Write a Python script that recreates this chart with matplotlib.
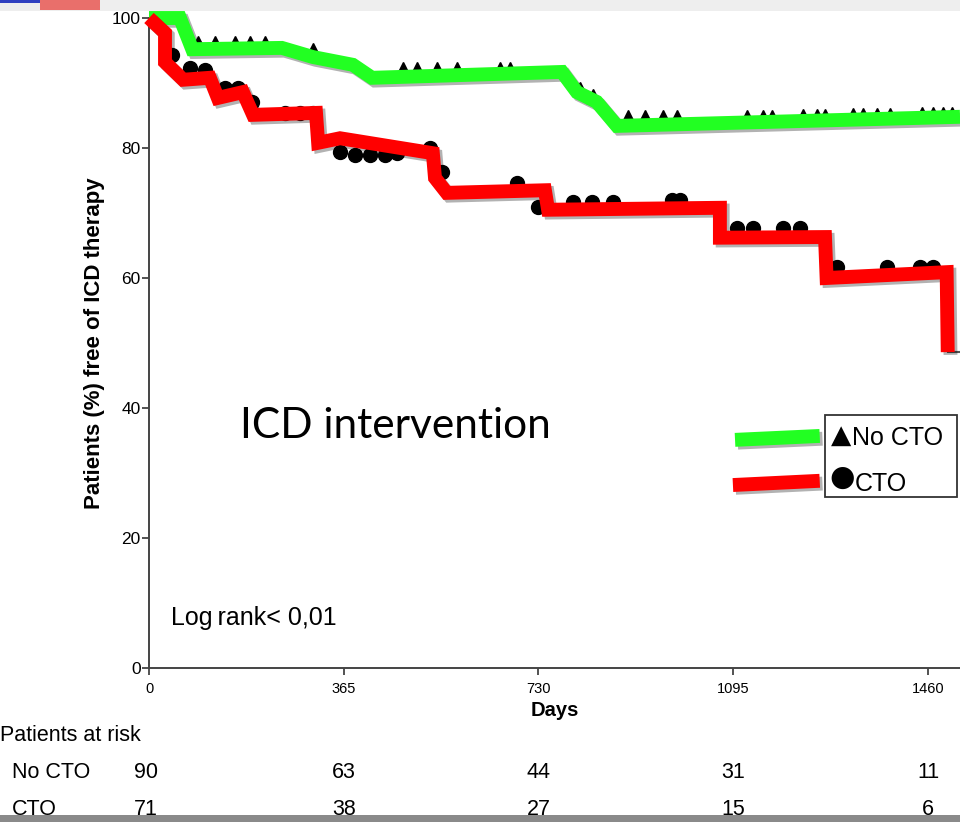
import matplotlib
matplotlib.use('Agg')
from matplotlib import pyplot as plt
from matplotlib import patheffects as pe
from matplotlib.patches import Rectangle

plt.rcParams['font.family'] = ['Liberation Sans', 'DejaVu Sans']

# hand-traced overlay curves (days, % free of ICD therapy)
no_cto_days = [0, 58, 81, 249, 307, 382, 418, 774, 802, 839, 877, 1520]
no_cto_pct = [100, 100, 95.2, 95.4, 94.0, 92.8, 90.8, 91.7, 88.6, 87.1, 83.4, 84.8]

cto_days = [0, 30, 30, 64, 114, 129, 176, 195, 313, 317, 358, 532, 536, 558,
            742, 748, 1070, 1070, 1267, 1270, 1495, 1497]
cto_pct = [100, 97.7, 93.2, 90.5, 90.8, 87.7, 88.6, 85.1, 85.4, 80.8, 81.5,
           79.2, 75.4, 73.1, 73.5, 70.5, 70.8, 66.2, 66.3, 60.0, 60.9, 48.6]

# censored observations
no_cto_cens_days = [92, 124, 161, 189, 217, 307, 476, 502, 540, 577, 658, 676,
                    808, 832, 897, 929, 963, 989, 1120, 1150, 1167, 1225, 1252,
                    1267, 1319, 1338, 1364, 1388, 1448, 1469, 1488, 1505]
no_cto_cens_pct = [96.2, 96.2, 96.2, 96.2, 96.2, 95.0, 92.2, 92.2, 92.2, 92.2,
                   92.2, 92.2, 89.0, 88.0, 84.8, 84.8, 84.8, 84.8, 84.8, 84.8,
                   84.8, 84.9, 84.9, 84.9, 85.0, 85.0, 85.0, 85.0, 85.2, 85.2,
                   85.2, 85.2]

cto_cens_days = [43, 77, 105, 142, 167, 193, 255, 283, 307, 358, 386, 414, 442,
                 465, 527, 549, 690, 729, 794, 830, 869, 980, 995, 1102, 1132,
                 1188, 1220, 1289, 1383, 1445, 1469]
cto_cens_pct = [94.3, 92.3, 92.0, 89.2, 89.2, 87.1, 85.4, 85.4, 85.4, 79.4,
                78.9, 78.9, 78.9, 79.2, 80.0, 76.3, 74.6, 70.9, 71.7, 71.7,
                71.7, 72.0, 72.0, 67.7, 67.7, 67.7, 67.7, 61.7, 61.7, 61.7, 61.7]

xticks = [0, 365, 730, 1095, 1460]
yticks = [0, 20, 40, 60, 80, 100]
risk_groups = ['No CTO', 'CTO']
risk_no_cto = [90, 63, 44, 31, 11]
risk_cto = [71, 38, 27, 15, 6]

W, H = 960, 822


def px(x, y):
    return x / W, 1 - y / H


fig = plt.figure(figsize=(W / 100, H / 100), dpi=100)
ax = fig.add_axes([149 / W, 154 / H, 1 - 149 / W, 650 / H])
ax.set_xlim(0, 1520)
ax.set_ylim(0, 100)

for s in ['top', 'right']:
    ax.spines[s].set_visible(False)
for s in ['left', 'bottom']:
    ax.spines[s].set_color('#444444')
    ax.spines[s].set_linewidth(1.4)
ax.set_xticks(xticks)
ax.set_yticks(yticks)
ax.tick_params(axis='both', direction='out', length=5, width=1.3, color='#444444')
ax.tick_params(axis='x', labelsize=10.5, pad=5)
ax.tick_params(axis='y', labelsize=12.5, pad=1)
ax.set_ylabel('Patients (%) free of ICD therapy', fontsize=16, fontweight='bold',
              labelpad=5)
ax.set_xlabel('Days', fontsize=14.5, fontweight='bold', labelpad=4)

# censor marks
ax.plot(no_cto_cens_days, no_cto_cens_pct, ls='none', marker='^', ms=10,
        color='black', zorder=2, clip_on=False)
ax.plot(cto_cens_days, cto_cens_pct, ls='none', marker='o', ms=10,
        color='black', zorder=2, clip_on=False)
ax.plot([cto_days[-1], 1520], [cto_pct[-1], cto_pct[-1]], color='#555555',
        lw=1.5, zorder=2)

shadow = [pe.SimpleLineShadow(offset=(2, -2), alpha=0.3), pe.Normal()]
ax.plot(no_cto_days, no_cto_pct, color='#22ff22', lw=10, solid_joinstyle='miter',
        solid_capstyle='butt', zorder=3, clip_on=False, path_effects=shadow)
ax.plot(cto_days, cto_pct, color='#ff0000', lw=10, solid_joinstyle='miter',
        solid_capstyle='butt', zorder=3, clip_on=False, path_effects=shadow)

# legend keys and box
ax.plot([0.7226, 0.827], [0.351, 0.357], transform=ax.transAxes,
        color='#22ff22', lw=10, solid_capstyle='butt', path_effects=shadow,
        zorder=4)
ax.plot([0.720, 0.827], [0.2815, 0.288], transform=ax.transAxes,
        color='#ff0000', lw=10, solid_capstyle='butt', path_effects=shadow,
        zorder=4)
ax.add_patch(Rectangle((0.8335, 0.263), 0.1628, 0.126, transform=ax.transAxes,
                       fill=False, edgecolor='#333333', lw=1.3, zorder=4,
                       clip_on=False))
fig.text(*px(831, 436), '\u25b2', fontsize=19, va='center', ha='left',
         family=['DejaVu Sans'])
fig.text(*px(852, 438), 'No CTO', fontsize=18, va='center', ha='left')
fig.text(*px(829, 478), '\u25cf', fontsize=21, va='center', ha='left',
         family=['DejaVu Sans'])
fig.text(*px(855, 484), 'CTO', fontsize=18, va='center', ha='left')

fig.text(*px(240, 426), 'ICD intervention', fontsize=30.5, va='center',
         ha='left', family=['Lato', 'DejaVu Sans'])
fig.text(*px(171, 618), 'Log\u2009rank< 0,01', fontsize=18, va='center',
         ha='left', family=['Liberation Sans', 'DejaVu Sans'])

# patients at risk table
fig.text(*px(0, 735), 'Patients at risk', fontsize=15.5, va='center', ha='left')
row_y = [772, 809]
for name, vals, y in zip(risk_groups, [risk_no_cto, risk_cto], row_y):
    fig.text(*px(12, y), name, fontsize=15.5, va='center', ha='left')
    for d, v in zip(xticks, vals):
        xp = ax.transData.transform((d, 0))[0]
        if d == 0:
            xp -= 3
        fig.text(xp / W, 1 - y / H, str(v), fontsize=15.5, va='center',
                 ha='center')

# slide header strip and bottom edge
fig.add_artist(Rectangle((0, 1 - 11 / H), 1, 11 / H, transform=fig.transFigure,
                         facecolor='#eeeeee', edgecolor='none', zorder=10))
fig.add_artist(Rectangle((40 / W, 1 - 10 / H), 60 / W, 10 / H,
                         transform=fig.transFigure, facecolor='#e8504a',
                         edgecolor='none', alpha=0.8, zorder=11))
fig.add_artist(Rectangle((0, 1 - 3 / H), 40 / W, 3 / H,
                         transform=fig.transFigure, facecolor='#3040c0',
                         edgecolor='none', zorder=11))
fig.add_artist(Rectangle((0, 0), 1, 7 / H, transform=fig.transFigure,
                         facecolor='#8a8a8a', edgecolor='none', zorder=10))

fig.savefig('out.png', dpi=100)
